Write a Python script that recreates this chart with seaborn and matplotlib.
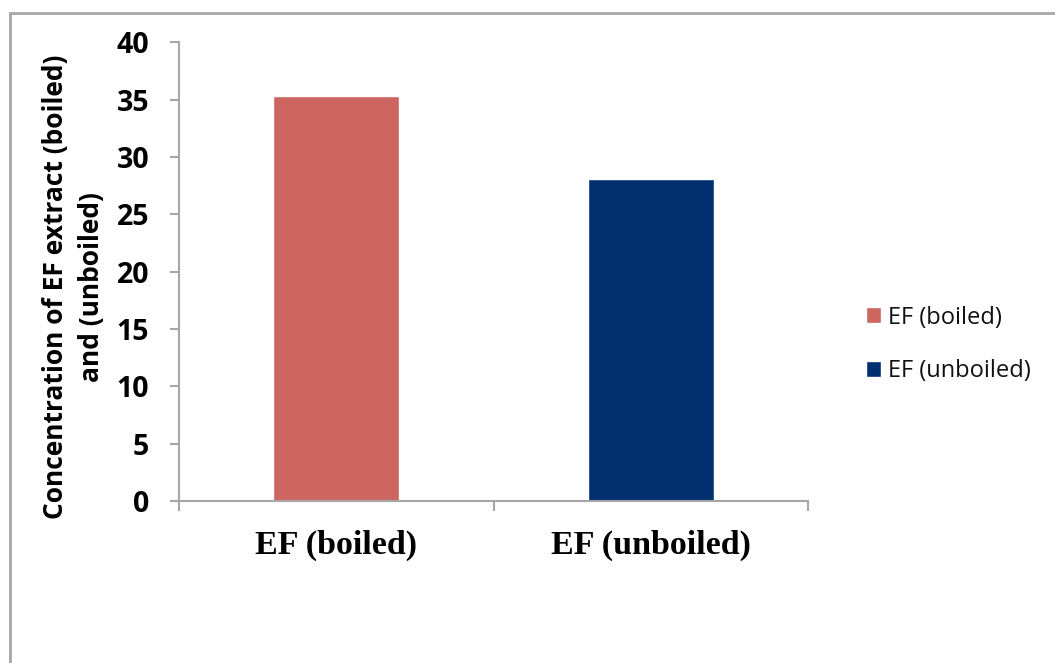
import matplotlib
matplotlib.use("Agg")
import matplotlib.pyplot as plt
from matplotlib.lines import Line2D
import seaborn as sns
import pandas as pd

# Data
categories = ["EF (boiled)", "EF (unboiled)"]
concentration = [35.3, 28.1]
bar_colors = ["#CD6660", "#003070"]
y_ticks = [0, 5, 10, 15, 20, 25, 30, 35, 40]

df = pd.DataFrame({"group": categories, "value": concentration})

sns.set_theme(style="white")
sans = ["Open Sans", "DejaVu Sans"]
serif = ["Liberation Serif", "DejaVu Serif"]
plt.rcParams["font.family"] = sans

W, H = 1055, 663
fig = plt.figure(figsize=(W / 100, H / 100), dpi=100)
ax = fig.add_axes([179 / W, 1 - 501 / H, (808 - 179) / W, (501 - 42.3) / H])

sns.barplot(data=df, x="group", y="value", hue="group",
            palette=bar_colors, width=0.4, dodge=False,
            saturation=1, legend=True, ax=ax)

axis_gray = "#A6A6A6"
ax.set_xlim(-0.5, 1.5)
ax.set_ylim(0, 40)
for side in ("top", "right"):
    ax.spines[side].set_visible(False)
for side in ("left", "bottom"):
    ax.spines[side].set_color(axis_gray)
    ax.spines[side].set_linewidth(1.5)

# y axis
ax.set_yticks(y_ticks)
ax.set_yticklabels([str(t) for t in y_ticks], fontsize=20.5, fontweight="bold",
                   family=sans, color="black")
ax.tick_params(axis="y", direction="out", length=6.5, width=1.5,
               color=axis_gray, pad=15, left=True)
ax.set_ylabel("Concentration of EF extract (boiled)\nand (unboiled)",
              fontsize=19, fontweight="bold", linespacing=1.45,
              family=sans, color="black")
ax.yaxis.set_label_coords((105 - 179) / 629, (501 - 287) / 458.7)

# x axis: labels at category centres, tick marks at category boundaries
ax.set_xticks([0, 1])
ax.set_xticklabels(categories, fontsize=24.5, fontweight="bold",
                   family=serif, color="black")
ax.tick_params(axis="x", which="major", length=0, pad=21)
ax.set_xticks([-0.5, 0.5, 1.5], minor=True)
ax.tick_params(axis="x", which="minor", direction="out", length=7, width=1.5,
               color=axis_gray, bottom=True)
ax.set_xlabel("")

# legend on the right
handles, labels = ax.get_legend_handles_labels()
ax.legend(handles, labels, loc="center left",
          bbox_to_anchor=(866 / W, 1 - 344.5 / H),
          bbox_transform=fig.transFigure, frameon=False,
          handlelength=0.64, handleheight=0.64,
          handletextpad=0.3, labelspacing=1.27, borderpad=0,
          borderaxespad=0, prop={"family": sans, "size": 17},
          labelcolor="#111111")

# outer chart border (left and top edges)
border = dict(color=axis_gray, lw=2, transform=fig.transFigure)
fig.add_artist(Line2D([10 / W, 10 / W], [0, 1 - 12.5 / H], **border))
fig.add_artist(Line2D([10 / W, 1.0], [1 - 12.5 / H, 1 - 12.5 / H], **border))

fig.savefig("out.png", dpi=100)
